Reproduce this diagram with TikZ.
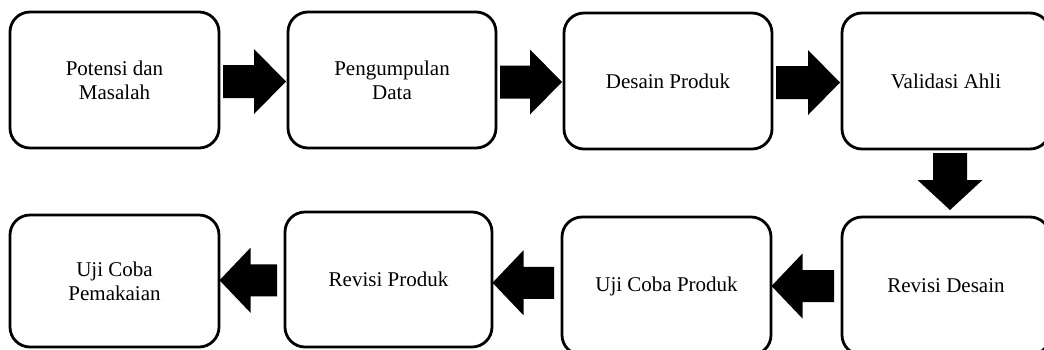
\documentclass[tikz,border=0pt]{standalone}
\usepackage{fontspec}
\setmainfont{Liberation Serif}
\usetikzlibrary{calc}
\tikzset{
  box/.style={draw=black, line width=2.8pt, rounded corners=20pt, fill=white,
    rectangle, outer sep=0pt, inner sep=2pt, align=center,
    font=\fontsize{21}{24}\selectfont},
  blk/.style={fill=black}
}
\newcommand\arrR[2]{\fill[blk] let \p1=(#1.east), \p2=(#2.west), \n1={(\y1+\y2)/2-1.5pt} in
  (\x1+4pt,\n1+16.5pt) -- (\x2-34pt,\n1+16.5pt) -- (\x2-34pt,\n1+32.5pt) -- (\x2-2pt,\n1)
  -- (\x2-34pt,\n1-32.5pt) -- (\x2-34pt,\n1-16.5pt) -- (\x1+4pt,\n1-16.5pt) -- cycle;}
\newcommand\arrL[2]{\fill[blk] let \p1=(#1.west), \p2=(#2.east), \n1={(\y1+\y2)/2} in
  (\x1-8pt,\n1+16pt) -- (\x2+31.5pt,\n1+16pt) -- (\x2+31.5pt,\n1+32.5pt) -- (\x2+0.5pt,\n1)
  -- (\x2+31.5pt,\n1-32.5pt) -- (\x2+31.5pt,\n1-16pt) -- (\x1-8pt,\n1-16pt) -- cycle;}
\newcommand\arrD[2]{\fill[blk] let \p1=(#1.south), \p2=(#2.north), \n1={\x1+4pt} in
  (\n1-17pt,\y1-4pt) -- (\n1-17pt,\y2+37pt) -- (\n1-32.5pt,\y2+37pt) -- (\n1,\y2+7pt)
  -- (\n1+32.5pt,\y2+37pt) -- (\n1+17pt,\y2+37pt) -- (\n1+17pt,\y1-4pt) -- cycle;}
\begin{document}
\begin{tikzpicture}[x=1pt,y=-1pt]
\useasboundingbox (0,0) rectangle (1044,349);
% top row
\node[box, minimum width=209pt, minimum height=136pt] (p1) at (114.5,80) {Potensi dan\\Masalah};
\node[box, minimum width=208pt, minimum height=136pt] (p2) at (392,80) {Pengumpulan\\Data};
\node[box, minimum width=208pt, minimum height=136pt] (p3) at (668,81) {Desain Produk};
\node[box, minimum width=208pt, minimum height=136pt] (p4) at (946,81) {Validasi Ahli};
% bottom row
\node[box, minimum width=208pt, minimum height=138pt] (q4) at (946,286) {Revisi Desain};
\node[box, minimum width=209pt, minimum height=138pt] (q3) at (666.5,286) {Uji Coba Produk};
\node[box, minimum width=207pt, minimum height=135pt] (q2) at (388.5,279.5) {Revisi Produk};
\node[box, minimum width=209pt, minimum height=132pt] (q1) at (114.5,281) {Uji Coba\\Pemakaian};
% arrows
\arrR{p1}{p2}
\arrR{p2}{p3}
\arrR{p3}{p4}
\arrD{p4}{q4}
\arrL{q4}{q3}
\arrL{q3}{q2}
\arrL{q2}{q1}
\end{tikzpicture}
\end{document}
